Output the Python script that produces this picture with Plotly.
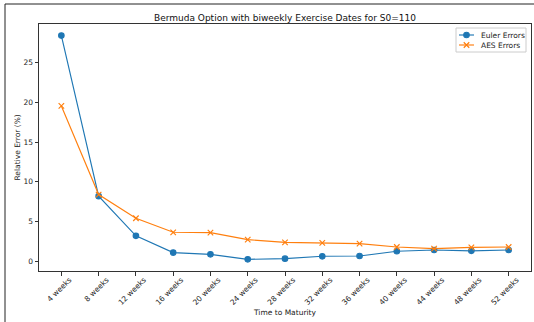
import plotly.graph_objects as go

categories = ["4 weeks", "8 weeks", "12 weeks", "16 weeks", "20 weeks", "24 weeks", "28 weeks",
              "32 weeks", "36 weeks", "40 weeks", "44 weeks", "48 weeks", "52 weeks"]
euler_errors = [28.4, 8.2, 3.2, 1.1, 0.88, 0.25, 0.33, 0.63, 0.67, 1.26, 1.42, 1.32, 1.42]
aes_errors = [19.55, 8.4, 5.42, 3.65, 3.6, 2.73, 2.39, 2.31, 2.22, 1.8, 1.59, 1.76, 1.8]
y_ticks = [0, 5, 10, 15, 20, 25]
series_names = ["Euler Errors", "AES Errors"]
series_colors = ["#1f77b4", "#ff7f0e"]
series_symbols = ["circle", "x-thin"]
marker_sizes = [5.5, 5.5]

W, H = 534, 322
L, R, T, B = 39, 3, 24, 51
pw, ph = W - L - R, H - T - B
LW = 1.15

font = "DejaVu Sans"
fig = go.Figure()
for name, vals, col, sym, ms in zip(series_names, [euler_errors, aes_errors], series_colors,
                                    series_symbols, marker_sizes):
    fig.add_trace(go.Scatter(x=categories, y=vals, mode="lines+markers", name=name, showlegend=False,
                             line=dict(color=col, width=LW),
                             marker=dict(symbol=sym, size=ms, color=col, line=dict(color=col, width=LW))))

# custom legend (pixel overlay axes)
leg_x0, leg_x1, leg_y0, leg_y1 = 456, 526, 28, 52
fig.add_shape(type="rect", xref="x2", yref="y2", x0=leg_x0, x1=leg_x1, y0=leg_y0, y1=leg_y1,
              line=dict(color="#ccc", width=1), fillcolor="white", layer="below")
annotations = []
for i, (name, col, sym, ms) in enumerate(zip(series_names, series_colors, series_symbols, marker_sizes)):
    yy = 35 + 10 * i
    fig.add_trace(go.Scatter(x=[459, 474], y=[yy, yy], xaxis="x2", yaxis="y2", mode="lines",
                             line=dict(color=col, width=LW), showlegend=False, hoverinfo="skip"))
    fig.add_trace(go.Scatter(x=[466.5], y=[yy], xaxis="x2", yaxis="y2", mode="markers",
                             marker=dict(symbol=sym, size=ms, color=col, line=dict(color=col, width=LW)),
                             showlegend=False, hoverinfo="skip"))
    annotations.append(dict(text=name, xref="x2", yref="y2", x=479, y=yy, xanchor="left",
                            yanchor="middle", showarrow=False, font=dict(size=7.5)))

# outer frame
fig.add_shape(type="rect", xref="paper", yref="paper",
              x0=(5 - L) / pw, x1=(W + 10 - L) / pw,
              y0=-(B + 20) / ph, y1=(H - B - 4) / ph,
              line=dict(color="#222", width=1), fillcolor="rgba(0,0,0,0)", layer="below")

annotations += [
    dict(text="Time to Maturity", xref="paper", yref="paper", x=0.5, y=-(312 - (H - B)) / ph,
         xanchor="center", yanchor="middle", showarrow=False, font=dict(size=7.5)),
    dict(text="Relative Error (%)", xref="paper", yref="paper", x=-(L - 17) / pw, y=0.5,
         xanchor="center", yanchor="middle", textangle=-90, showarrow=False, font=dict(size=7.5)),
]

fig.update_layout(
    width=W, height=H,
    margin=dict(l=L, r=R, t=T, b=B),
    paper_bgcolor="white", plot_bgcolor="white",
    font=dict(family=font, size=7.5, color="#222"),
    title=dict(text="Bermuda Option with biweekly Exercise Dates for S0=110",
               x=(L + pw / 2) / W, xanchor="center", y=1 - 17.5 / H, yanchor="middle",
               yref="container", font=dict(size=9, color="#111")),
    showlegend=False,
    hovermode=False,
    xaxis=dict(type="category", range=[-0.6, 12.6], tickangle=-45, automargin=False,
               ticklabelshift=8, ticklabelstandoff=-3,
               showline=True, mirror=True, linecolor="#333", linewidth=1,
               ticks="outside", ticklen=3.5, tickwidth=1, tickcolor="#333",
               showgrid=False, zeroline=False),
    yaxis=dict(range=[-1.22, 29.86], tickvals=y_ticks, automargin=False,
               showline=True, mirror=True, linecolor="#333", linewidth=1,
               ticks="outside", ticklen=3.5, tickwidth=1, tickcolor="#333",
               showgrid=False, zeroline=False),
    xaxis2=dict(overlaying="x", range=[L, W - R], visible=False, fixedrange=True),
    yaxis2=dict(overlaying="y", range=[H - B, T], visible=False, fixedrange=True),
    annotations=annotations,
)
fig.write_html("out.html", config={"displayModeBar": False, "staticPlot": True},
               post_script="document.body.style.margin='0';document.body.style.overflow='hidden';")
